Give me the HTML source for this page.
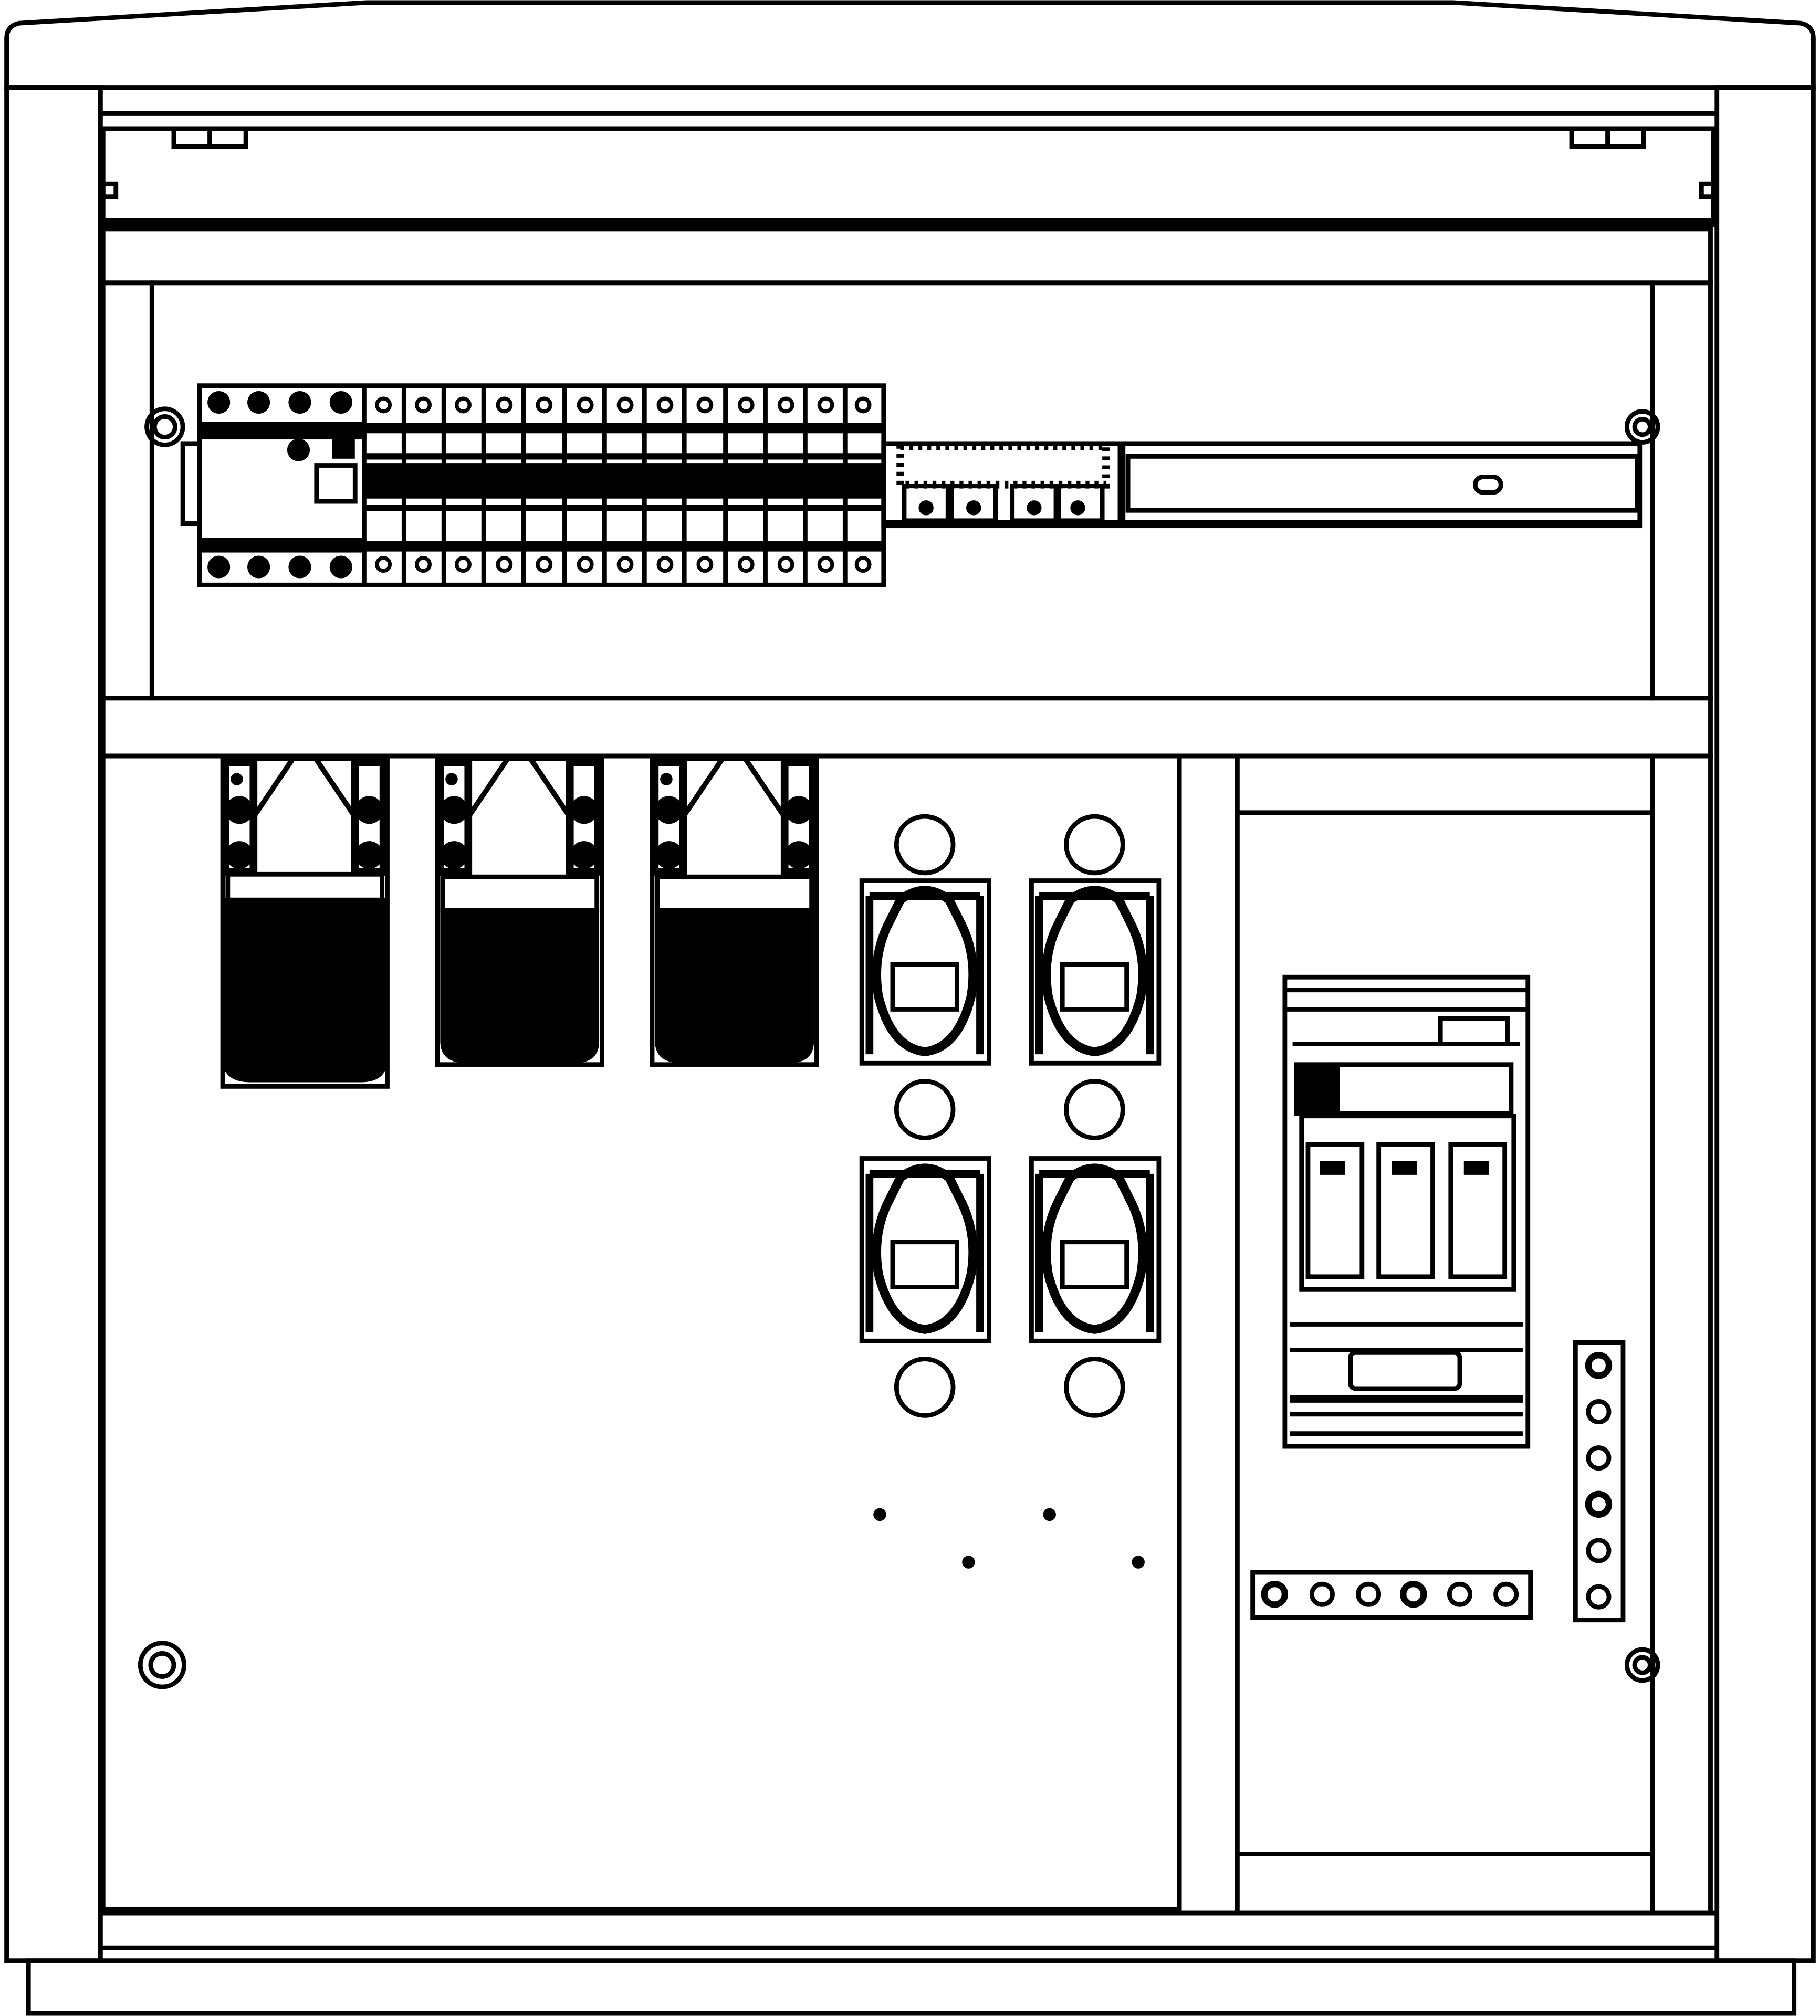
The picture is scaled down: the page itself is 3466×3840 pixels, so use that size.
<!DOCTYPE html>
<html><head><meta charset="utf-8"><style>html,body{margin:0;padding:0;background:#fff}svg{display:block}</style></head>
<body>
<svg width="3466" height="3840" viewBox="0 0 1415 1568" xmlns="http://www.w3.org/2000/svg" fill="none" stroke="#000" stroke-width="3.6">
<defs>
<g id="fh">
<rect x="175" y="593" width="22" height="85" stroke-width="6"/><rect x="276" y="593" width="22" height="85" stroke-width="6"/>
<circle cx="186" cy="630" r="9" fill="#000"/><circle cx="287" cy="630" r="9" fill="#000"/>
<circle cx="186" cy="665" r="9" fill="#000"/><circle cx="287" cy="665" r="9" fill="#000"/>
<circle cx="184" cy="606" r="3" fill="#000"/>
<path d="M198,634 L227,591 M246,591 L275,634" stroke-width="4"/>
</g>
</defs>
<rect width="1415" height="1568" fill="#fff" stroke="none"/>
<path d="M5,68 L5,30 Q5,20 15,18 L285,2 L1130,2 L1400,18 Q1410,20 1410,30 L1410,68 Z"/>
<rect x="5" y="68" width="73" height="1457"/>
<rect x="1335" y="68" width="75" height="1457"/>
<rect x="22" y="1525" width="1373" height="41"/>
<line x1="78" y1="88" x2="1335" y2="88"/>
<line x1="78" y1="100" x2="1335" y2="100"/>
<line x1="80" y1="100" x2="80" y2="170"/>
<line x1="1332" y1="100" x2="1332" y2="170"/>
<line x1="78" y1="173" x2="1335" y2="173" stroke-width="7"/>
<rect x="135" y="100" width="56" height="14"/><line x1="163" y1="100" x2="163" y2="114"/>
<rect x="1222" y="100" width="56" height="14"/><line x1="1250" y1="100" x2="1250" y2="114"/>
<rect x="80" y="143" width="10" height="10"/><rect x="1323" y="143" width="10" height="10"/>
<rect x="80" y="178" width="1250" height="42"/>
<rect x="80" y="220" width="38" height="323"/>
<rect x="1285" y="220" width="45" height="323"/>
<rect x="118" y="220" width="1167" height="323"/>
<circle cx="128" cy="332" r="14"/><circle cx="128" cy="332" r="8"/>
<circle cx="1277" cy="332" r="12"/><circle cx="1277" cy="332" r="6"/>
<rect x="155" y="300" width="532" height="155"/>
<rect x="155" y="330" width="128" height="10" fill="#000"/>
<rect x="155" y="420" width="128" height="8" fill="#000"/>
<rect x="142" y="345" width="13" height="62"/>
<line x1="283" y1="300" x2="283" y2="455"/>
<g fill="#000">
<circle cx="170" cy="313" r="7"/><circle cx="201" cy="313" r="7"/><circle cx="233" cy="313" r="7"/><circle cx="265" cy="313" r="7"/>
<circle cx="170" cy="441" r="7"/><circle cx="201" cy="441" r="7"/><circle cx="233" cy="441" r="7"/><circle cx="265" cy="441" r="7"/>
<circle cx="232" cy="350" r="7"/><rect x="260" y="343" width="14" height="12"/>
<rect x="283" y="362" width="404" height="24"/>
</g>
<rect x="246" y="362" width="30" height="28"/>
<g>
<line x1="314" y1="300" x2="314" y2="455"/><line x1="345" y1="300" x2="345" y2="455"/><line x1="376" y1="300" x2="376" y2="455"/><line x1="407" y1="300" x2="407" y2="455"/><line x1="439" y1="300" x2="439" y2="455"/><line x1="470" y1="300" x2="470" y2="455"/><line x1="501" y1="300" x2="501" y2="455"/><line x1="532" y1="300" x2="532" y2="455"/><line x1="564" y1="300" x2="564" y2="455"/><line x1="595" y1="300" x2="595" y2="455"/><line x1="626" y1="300" x2="626" y2="455"/><line x1="657" y1="300" x2="657" y2="455"/>
</g>
<line x1="283" y1="333" x2="687" y2="333" stroke-width="8"/>
<line x1="283" y1="355" x2="687" y2="355" stroke-width="5"/>
<line x1="283" y1="395" x2="687" y2="395" stroke-width="5"/>
<line x1="283" y1="425" x2="687" y2="425" stroke-width="8"/>
<g stroke-width="3">
<circle cx="298" cy="315" r="5"/><circle cx="329" cy="315" r="5"/><circle cx="360" cy="315" r="5"/><circle cx="392" cy="315" r="5"/><circle cx="423" cy="315" r="5"/><circle cx="455" cy="315" r="5"/><circle cx="486" cy="315" r="5"/><circle cx="517" cy="315" r="5"/><circle cx="548" cy="315" r="5"/><circle cx="580" cy="315" r="5"/><circle cx="611" cy="315" r="5"/><circle cx="642" cy="315" r="5"/><circle cx="671" cy="315" r="5"/>
<circle cx="298" cy="439" r="5"/><circle cx="329" cy="439" r="5"/><circle cx="360" cy="439" r="5"/><circle cx="392" cy="439" r="5"/><circle cx="423" cy="439" r="5"/><circle cx="455" cy="439" r="5"/><circle cx="486" cy="439" r="5"/><circle cx="517" cy="439" r="5"/><circle cx="548" cy="439" r="5"/><circle cx="580" cy="439" r="5"/><circle cx="611" cy="439" r="5"/><circle cx="642" cy="439" r="5"/><circle cx="671" cy="439" r="5"/>
</g>
<rect x="687" y="345" width="588" height="64"/>
<rect x="877" y="355" width="396" height="42"/>
<line x1="687" y1="407" x2="1275" y2="407" stroke-width="5"/>
<rect x="1147" y="371" width="20" height="12" rx="6"/>
<rect x="700" y="347" width="160" height="30" stroke-dasharray="3 4" stroke-width="6"/>
<rect x="703" y="378" width="34" height="27"/><rect x="740" y="378" width="34" height="27"/><rect x="787" y="378" width="34" height="27"/><rect x="823" y="378" width="34" height="27"/>
<g fill="#000"><circle cx="720" cy="395" r="4"/><circle cx="757" cy="395" r="4"/><circle cx="804" cy="395" r="4"/><circle cx="838" cy="395" r="4"/></g>
<line x1="872" y1="347" x2="872" y2="407" stroke-width="6"/>
<rect x="80" y="543" width="1250" height="45"/>
<rect x="80" y="588" width="837" height="897"/>
<rect x="917" y="588" width="45" height="900"/>
<rect x="962" y="588" width="323" height="900"/>
<line x1="962" y1="632" x2="1285" y2="632"/>
<line x1="962" y1="1442" x2="1285" y2="1442"/>
<rect x="1285" y="588" width="45" height="900"/>
<line x1="78" y1="1488" x2="1335" y2="1488"/>
<line x1="78" y1="1515" x2="1335" y2="1515"/>
<circle cx="126" cy="1295" r="17"/><circle cx="126" cy="1295" r="9"/>
<circle cx="1277" cy="1295" r="12"/><circle cx="1277" cy="1295" r="6"/>
<g>
<rect x="173" y="590" width="128" height="255"/>
<use href="#fh"/>
<rect x="177" y="680" width="120" height="20"/>
<path d="M175,700 L299,700 L299,825 Q299,840 280,840 L195,840 Q175,840 175,825 Z" fill="#000"/>
</g>
<g transform="translate(167,0)">
<rect x="173" y="590" width="128" height="238"/>
<use href="#fh"/>
<rect x="177" y="682" width="120" height="26"/>
<path d="M177,708 L297,708 L297,810 Q297,825 280,825 L195,825 Q177,825 177,810 Z" fill="#000"/>
</g>
<g transform="translate(334,0)">
<rect x="173" y="590" width="128" height="238"/>
<use href="#fh"/>
<rect x="177" y="682" width="120" height="26"/>
<path d="M177,708 L297,708 L297,810 Q297,825 280,825 L195,825 Q177,825 177,810 Z" fill="#000"/>
</g>
<g id="s1">
<circle cx="719" cy="657" r="22"/>
<rect x="670" y="685" width="99" height="142"/>
<path d="M676,697 L762,697 M676,697 L676,820 M762,697 L762,820" stroke-width="6"/>
<path d="M700,700 Q719,685 738,700 L748,720 Q760,745 755,775 Q745,815 719,818 Q693,815 683,775 Q678,745 690,720 Z" stroke-width="7"/>
<rect x="694" y="750" width="50" height="35"/>
<circle cx="719" cy="863" r="22"/>
</g>
<use href="#s1" transform="translate(132,0)"/>
<g transform="translate(0,216)">
<rect x="670" y="685" width="99" height="142"/>
<path d="M676,697 L762,697 M676,697 L676,820 M762,697 L762,820" stroke-width="6"/>
<path d="M700,700 Q719,685 738,700 L748,720 Q760,745 755,775 Q745,815 719,818 Q693,815 683,775 Q678,745 690,720 Z" stroke-width="7"/>
<rect x="694" y="750" width="50" height="35"/>
<circle cx="719" cy="863" r="22"/>
</g>
<g transform="translate(132,216)">
<rect x="670" y="685" width="99" height="142"/>
<path d="M676,697 L762,697 M676,697 L676,820 M762,697 L762,820" stroke-width="6"/>
<path d="M700,700 Q719,685 738,700 L748,720 Q760,745 755,775 Q745,815 719,818 Q693,815 683,775 Q678,745 690,720 Z" stroke-width="7"/>
<rect x="694" y="750" width="50" height="35"/>
<circle cx="719" cy="863" r="22"/>
</g>
<g fill="#000" stroke="none"><circle cx="684" cy="1178" r="5"/><circle cx="816" cy="1178" r="5"/><circle cx="753" cy="1215" r="5"/><circle cx="885" cy="1215" r="5"/></g>
<rect x="999" y="760" width="189" height="365"/>
<line x1="999" y1="770" x2="1188" y2="770"/>
<line x1="999" y1="785" x2="1188" y2="785"/>
<rect x="1120" y="792" width="52" height="20"/>
<line x1="1005" y1="812" x2="1182" y2="812"/>
<rect x="1040" y="828" width="135" height="38"/>
<rect x="1008" y="828" width="30" height="38" fill="#000"/>
<rect x="1012" y="868" width="165" height="135"/>
<rect x="1017" y="890" width="42" height="103"/><rect x="1072" y="890" width="42" height="103"/><rect x="1128" y="890" width="42" height="103"/>
<g fill="#000"><rect x="1028" y="905" width="16" height="7"/><rect x="1084" y="905" width="16" height="7"/><rect x="1140" y="905" width="16" height="7"/></g>
<line x1="1003" y1="1030" x2="1184" y2="1030"/>
<line x1="1003" y1="1050" x2="1184" y2="1050"/>
<rect x="1050" y="1052" width="85" height="28" rx="4"/>
<line x1="1003" y1="1088" x2="1184" y2="1088" stroke-width="6"/>
<line x1="1003" y1="1100" x2="1184" y2="1100"/>
<line x1="1003" y1="1115" x2="1184" y2="1115"/>
<rect x="974" y="1223" width="216" height="35"/>
<circle cx="991" cy="1240" r="8" stroke-width="5"/><circle cx="1028" cy="1240" r="8"/><circle cx="1064" cy="1240" r="8"/><circle cx="1099" cy="1240" r="8" stroke-width="5"/><circle cx="1135" cy="1240" r="8"/><circle cx="1171" cy="1240" r="8"/>
<rect x="1225" y="1044" width="37" height="216"/>
<circle cx="1243" cy="1062" r="8" stroke-width="5"/><circle cx="1243" cy="1098" r="8"/><circle cx="1243" cy="1134" r="8"/><circle cx="1243" cy="1170" r="8" stroke-width="5"/><circle cx="1243" cy="1206" r="8"/><circle cx="1243" cy="1242" r="8"/>
</svg>
</body></html>
